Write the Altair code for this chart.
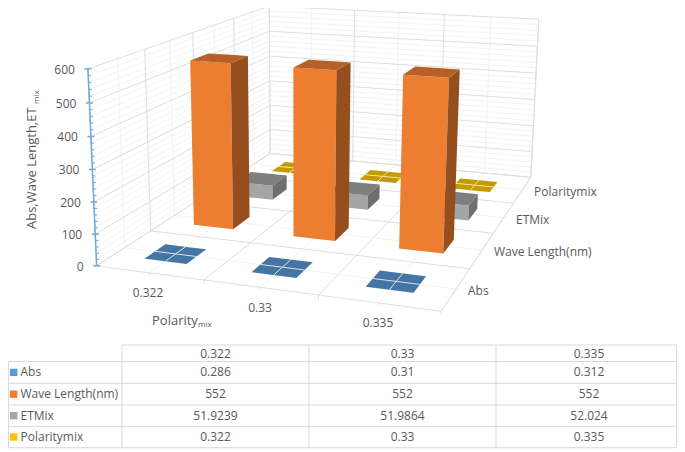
import numpy as np
import pandas as pd
import altair as alt

categories = ["0.322", "0.33", "0.335"]
series = ["Abs", "Wave Length(nm)", "ETMix", "Polaritymix"]
abs_values = [0.286, 0.31, 0.312]
wave_values = [552, 552, 552]
etmix_values = [51.9239, 51.9864, 52.024]
polarity_values = [0.322, 0.33, 0.335]
y_ticks = [0, 100, 200, 300, 400, 500, 600]
all_values = [abs_values, wave_values, etmix_values, polarity_values]

front = ["#5B9BD5", "#ED7D31", "#A5A5A5", "#FFC000"]
top = ["#4575A3", "#B65F26", "#7F7F7F", "#C39A00"]
side = ["#3A6288", "#954F1F", "#6E6E6E", "#A07F00"]
TXT = "#595959"
MAJOR, MINOR, TBL = "#DEDEDE", "#F3F3F3", "#D9D9D9"

# camera: box corners (u, v, h) -> page pixel
anchors = [((0, 0, 0), (97, 266)), ((1, 0, 0), (440.5, 312)), ((1, 1, 0), (531, 176)),
           ((0, 1, 0), (270, 154)), ((0, 0, 1), (88, 68)), ((1, 1, 1), (539, 20)),
           ((0, 1, 1), (269, 6)), ((0, 0, .5), (92.5, 169.5))]
M = []
for (u, v, h), (px, py) in anchors:
    M.append([u, v, h, 1, 0, 0, 0, 0, -px*u, -px*v, -px*h, -px])
    M.append([0, 0, 0, 0, u, v, h, 1, -py*u, -py*v, -py*h, -py])
P = np.linalg.svd(np.array(M, float))[2][-1].reshape(3, 4)


def proj(u, v, h):
    a = P @ np.array([u, v, h, 1.0])
    return a[0]/a[2], a[1]/a[2]


xs = alt.Scale(domain=[8, 677], range=[0, 669], nice=False, zero=False)
ys = alt.Scale(domain=[450, 8], nice=False, zero=False)
X = alt.X("x:Q", scale=xs, axis=None)
Y = alt.Y("y:Q", scale=ys, axis=None)

polys = {"a": [], "b": []}
pid = [0]


def poly(group, pts, fill):
    pid[0] += 1
    n = len(pts)
    for bx in sorted({round(p[0], 3) for p in pts}):
        vals = []
        for i in range(n):
            (x0, y0), (x1, y1) = pts[i], pts[(i+1) % n]
            lo, hi = min(x0, x1), max(x0, x1)
            if lo - 1e-3 <= bx <= hi + 1e-3:
                if abs(x1-x0) < 1e-6:
                    vals += [y0, y1]
                else:
                    vals.append(y0 + (y1-y0)*(bx-x0)/(x1-x0))
        polys[group].append(dict(pid=f"p{pid[0]:03d}", fill=fill, x=bx, y=min(vals), y1=max(vals)))


def poly_layer(group):
    return alt.Chart(pd.DataFrame(polys[group])).mark_area(orient="vertical", opacity=1).encode(
        x=X, y=Y, y2=alt.Y2("y1:Q"), color=alt.Color("fill:N", scale=None), detail="pid:N")


def rules(segs, color, width):
    df = pd.DataFrame([dict(x=a[0], y=a[1], x2=b[0], y2=b[1]) for a, b in segs])
    return alt.Chart(df).mark_rule(color=color, strokeWidth=width).encode(
        x=X, y=Y, x2=alt.X2("x2:Q"), y2=alt.Y2("y2:Q"))


def labels(rows, size=12, align="left", angle=0, baseline="middle"):
    df = pd.DataFrame([dict(x=r[0], y=r[1], t=r[2]) for r in rows])
    return alt.Chart(df).mark_text(font="Open Sans", fontSize=size, color=TXT, align=align,
                                   angle=angle, baseline=baseline).encode(x=X, y=Y, text="t:N")


# walls and floor grid
gmin, gmaj = [], []
for k in range(0, 31):
    h = k/30
    seg = [(proj(0, 0, h), proj(0, 1, h)), (proj(0, 1, h), proj(1, 1, h))]
    (gmaj if k % 5 == 0 else gmin).extend(seg)
for k in range(0, 9):
    v = k/8
    seg = [(proj(0, v, 0), proj(0, v, 1)), (proj(0, v, 0), proj(1, v, 0))]
    (gmaj if k % 2 == 0 else gmin).extend(seg)
for k in range(0, 7):
    u = k/6
    seg = [(proj(u, 1, 0), proj(u, 1, 1)), (proj(u, 0, 0), proj(u, 1, 0))]
    (gmaj if k % 2 == 0 else gmin).extend(seg)
gmaj.append((proj(1, 0, 0), proj(1, 1, 0)))
gmaj.append((proj(1, 1, 0), proj(1, 1, 1)))
# tick marks below the floor's front and right edges
for k in range(1, 7):
    a = proj(k/6, 0, 0)
    gmaj.append((a, (a[0], a[1] + (4 if k % 2 == 0 else 2))))

BW, BD = 0.4/3, 0.4/4
cross = {"gold": [], "blue": []}
for s in [3, 2, 1, 0]:
    for c in range(3):
        uc, vc = (c+.5)/3, (s+.5)/4
        u0, u1, v0, v1 = uc-BW/2, uc+BW/2, vc-BD/2, vc+BD/2
        h = all_values[s][c]/600
        g = "a" if s == 3 else "b"
        poly(g, [proj(u0, v0, 0), proj(u1, v0, 0), proj(u1, v0, h), proj(u0, v0, h)], front[s])
        poly(g, [proj(u1, v0, 0), proj(u1, v1, 0), proj(u1, v1, h), proj(u1, v0, h)], side[s])
        poly(g, [proj(u0, v0, h), proj(u1, v0, h), proj(u1, v1, h), proj(u0, v1, h)], top[s])
        if s in (0, 3):
            key = "gold" if s == 3 else "blue"
            cross[key].append((proj(u0, vc, h), proj(u1, vc, h)))
            cross[key].append((proj(uc, v0, h), proj(uc, v1, h)))

# value axis
axis_main, axis_minor = [(proj(0, 0, 0), proj(0, 0, 1))], []
for k in range(0, 31):
    a = proj(0, 0, k/30)
    if k % 5 == 0:
        axis_main.append(((a[0]-3.5, a[1]), (a[0]+3.5, a[1])))
    else:
        axis_minor.append((a, (a[0]+3, a[1])))

tick_rows = []
for t in y_ticks:
    a = proj(0, 0, t/600)
    tick_rows.append((a[0]-13, a[1]+1, str(t)))

cat_rows = [(148, 293, categories[0]), (260, 307.5, categories[1]), (378, 323, categories[2])]
ser_rows = [(468, 291, series[0]), (494, 252, series[1]), (516, 220, series[2]), (534, 192, series[3])]

# data table (left and right edges stop at the drawable area)
col_x = [8.5, 122, 309, 496, 682]
edge_r = 676.5
row_y = [345, 361.5, 383.3, 405, 426.3, 447.7]
tbl = [((col_x[1], row_y[0]), (edge_r, row_y[0]))]
tbl += [((col_x[0], y), (edge_r, y)) for y in row_y[1:]]
tbl += [((x, row_y[0]), (x, row_y[5])) for x in col_x[1:4] + [edge_r]]
tbl += [((col_x[0], row_y[1]), (col_x[0], row_y[5]))]
cell_rows = []
for c in range(3):
    cx = (col_x[c+1]+col_x[c+2])/2
    cell_rows.append((cx, (row_y[0]+row_y[1])/2+.5, categories[c]))
    for s in range(4):
        cell_rows.append((cx, (row_y[s+1]+row_y[s+2])/2, str(all_values[s][c])))
name_rows = [(20.5, (row_y[s+1]+row_y[s+2])/2, series[s]) for s in range(4)]
key_df = pd.DataFrame([dict(x=13.7, y=(row_y[s+1]+row_y[s+2])/2, c=front[s]) for s in range(4)])
keys = alt.Chart(key_df).mark_square(size=54, opacity=1).encode(
    x=X, y=Y, color=alt.Color("c:N", scale=None))

layers = [
    rules(gmin, MINOR, 1), rules(gmaj, MAJOR, 1),
    poly_layer("a"), rules(cross["gold"], "#F4E4B0", 1),
    poly_layer("b"), rules(cross["blue"], "#D5E2EE", 1),
    rules(axis_main, "#6FA8DC", 1.5), rules(axis_minor, "#6FA8DC", 1),
    labels(tick_rows, align="right"), labels(cat_rows, align="center"), labels(ser_rows),
    labels([(152, 321, "Polarity")], size=13),
    labels([(198, 325, "mix")], size=8),
    labels([(35.5, 229, "Abs,Wave Length,ET")], size=13, angle=270, baseline="alphabetic"),
    labels([(39, 104, "mix")], size=8, angle=270, baseline="alphabetic"),
    rules(tbl, TBL, 1), labels(cell_rows, align="center"), labels(name_rows), keys,
]

chart = alt.layer(*layers).properties(
    width=669, height=442, padding=0, autosize=alt.AutoSizeParams(type="none"),
    background="white",
).configure_view(stroke=None)
chart.save("out.html", embed_options={"renderer": "svg", "actions": False})
